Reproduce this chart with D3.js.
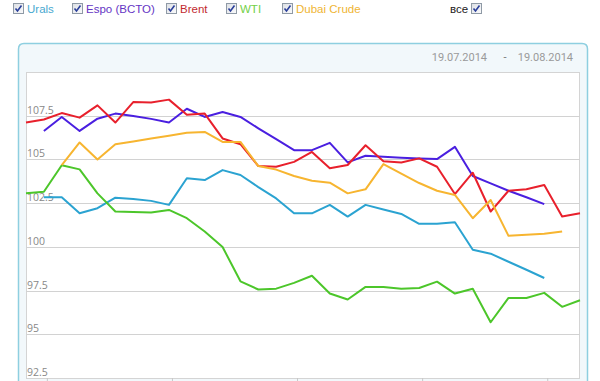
<!DOCTYPE html>
<html><head><meta charset="utf-8">
<script src="https://cdn.jsdelivr.net/npm/d3@7"></script>
<style>body{margin:0;background:#fff;}svg{display:block;}</style>
</head><body>
<svg id="c" width="600" height="381"></svg>
<script>
// Dates 19.07.2014 .. 19.08.2014 (daily)
const startDate = "2014-07-19";
const dayCount = 32;
const seriesNames = ["Urals", "Espo (BCTO)", "Brent", "WTI", "Dubai Crude"];
const yTicks = [92.5, 95, 97.5, 100, 102.5, 105, 107.5];
const xTickDates = ["2014-07-20T04:00", "2014-07-27T04:00", "2014-08-03T04:00", "2014-08-10T04:00", "2014-08-17T04:00"];
const urals = [null,102.84,102.84,101.92,102.21,102.81,102.74,102.63,102.4,103.92,103.82,104.39,104.11,103.42,102.77,101.92,101.92,102.4,101.73,102.4,102.14,101.88,101.32,101.32,101.41,99.83,99.61,99.15,98.69,98.22,null,null];
const espo = [null,106.63,107.43,106.63,107.33,107.62,107.49,107.32,107.11,107.9,107.43,107.71,107.43,106.78,106.16,105.53,105.53,105.95,104.83,105.21,105.15,105.1,105.06,105.02,105.72,104.05,103.63,103.21,102.84,102.44,null,null];
const brent = [107.11,107.28,107.65,107.39,108.09,107.11,108.28,108.26,108.42,107.56,107.62,106.2,105.87,104.62,104.58,104.86,105.43,104.49,104.68,105.81,104.9,104.83,105.06,104.58,103.02,104.24,102.02,103.21,103.29,103.54,101.73,101.92];
const wti = [103.06,103.15,104.67,104.43,103.06,102.02,102.0,101.96,102.11,101.64,100.88,99.99,98.03,97.56,97.61,97.94,98.35,97.33,96.99,97.71,97.71,97.6,97.65,98.01,97.33,97.6,95.69,97.08,97.08,97.37,96.57,96.95];
const dubai = [null,null,104.67,105.97,105.0,105.87,106.03,106.2,106.36,106.52,106.57,106.0,106.0,104.62,104.42,104.05,103.78,103.67,103.06,103.29,104.73,104.19,103.65,103.21,102.97,101.64,102.68,100.63,100.69,100.75,100.88,null];
const colors = ["#2ba3d1", "#4a1fe0", "#e8202c", "#4cc62a", "#f7b530"];
const labelColors = ["#48a9d0", "#6535c4", "#c22a30", "#72d047", "#efb534"];

const svg = d3.select("#c");
const parse = d3.timeParse("%Y-%m-%d");
const parseT = d3.timeParse("%Y-%m-%dT%H:%M");
const d0 = parse(startDate);
const dates = d3.range(dayCount).map(i => d3.timeDay.offset(d0, i));
const allSeries = [urals, espo, brent, wti, dubai];

// Legend
const legX = [13, 72, 166, 226, 282];
const leg = svg.append("g");
function checkbox(g, x, y){
  const grad = "cbg";
  g.append("rect").attr("x", x+0.5).attr("y", y+0.5).attr("width", 10).attr("height", 10)
    .attr("fill", "url(#"+grad+")").attr("stroke", "#8f9aa6");
  g.append("path").attr("d", `M${x+2.5},${y+5.5} L${x+4.5},${y+8} L${x+8.5},${y+2.5}`)
    .attr("fill", "none").attr("stroke", "#2a3f9a").attr("stroke-width", 1.6);
}
const defs = svg.append("defs");
const lg = defs.append("linearGradient").attr("id", "cbg").attr("x1",0).attr("y1",0).attr("x2",1).attr("y2",1);
lg.append("stop").attr("offset","0").attr("stop-color","#dcdfe4");
lg.append("stop").attr("offset","1").attr("stop-color","#fbfbfc");
seriesNames.forEach((n, i) => {
  checkbox(leg, legX[i], 3);
  leg.append("text").attr("x", legX[i] + 14).attr("y", 13).text(n)
    .attr("fill", labelColors[i]).attr("font-family", "Liberation Sans, Arial, sans-serif").attr("font-size", 11.5);
});
leg.append("text").attr("x", 450).attr("y", 13).text("все").attr("fill", "#222")
  .attr("font-family", "Liberation Sans, Arial, sans-serif").attr("font-size", 11.5);
checkbox(leg, 471, 3);

// Panel
svg.append("path")
  .attr("d", "M18.5,381 L18.5,49 Q18.5,43.5 24,43.5 L582,43.5 Q587.5,43.5 587.5,49 L587.5,381")
  .attr("fill", "#f2f8fb").attr("stroke", "#8ecfe0").attr("stroke-width", 1.5);
svg.append("text").attr("x", 487).attr("y", 61).attr("text-anchor", "end").text("19.07.2014")
  .attr("fill", "#9a9a9a").attr("font-family", "Roboto, sans-serif").attr("font-size", 11);
svg.append("text").attr("x", 505).attr("y", 61).attr("text-anchor", "middle").text("-")
  .attr("fill", "#777").attr("font-family", "Roboto, sans-serif").attr("font-size", 11);
svg.append("text").attr("x", 573).attr("y", 61).attr("text-anchor", "end").text("19.08.2014")
  .attr("fill", "#9a9a9a").attr("font-family", "Roboto, sans-serif").attr("font-size", 11);

const L = 26, R = 580, T = 72, B = 378;
svg.append("rect").attr("x", L+0.5).attr("y", T+0.5).attr("width", R-L-1).attr("height", B-T)
  .attr("fill", "#fff").attr("stroke", "#d4d4d4");

const x = d3.scaleTime().domain([dates[0], dates[dayCount-1]]).range([L, R]);
const y = d3.scaleLinear().domain([92.5, 110]).range([B, T]);

// grid
const grid = svg.append("g");
yTicks.forEach(v => {
  if (v > 92.5) grid.append("line").attr("x1", L).attr("x2", R).attr("y1", Math.round(y(v))+0.5).attr("y2", Math.round(y(v))+0.5)
    .attr("stroke", "#d2d2d2");
  grid.append("text").attr("x", L+1).attr("y", Math.round(y(v)) - 2).text(v)
    .attr("fill", "#888").attr("font-family", "Open Sans, sans-serif").attr("font-size", 10.5);
});
// x ticks
const xAxis = d3.axisBottom(x).tickValues(xTickDates.map(parseT)).tickFormat("").tickSize(5).tickSizeOuter(0);
const xa = svg.append("g").attr("transform", `translate(0,${B})`).call(xAxis);
xa.select(".domain").remove();
xa.selectAll("line").attr("stroke", "#c8c8c8");

// lines
const line = d3.line().defined(d => d[1] != null).x(d => x(d[0])).y(d => y(d[1]));
allSeries.forEach((s, i) => {
  svg.append("path").datum(s.map((v, j) => [dates[j], v]))
    .attr("d", line).attr("fill", "none").attr("stroke", colors[i]).attr("stroke-width", 2)
    .attr("stroke-linejoin", "round");
});
</script>
</body></html>
